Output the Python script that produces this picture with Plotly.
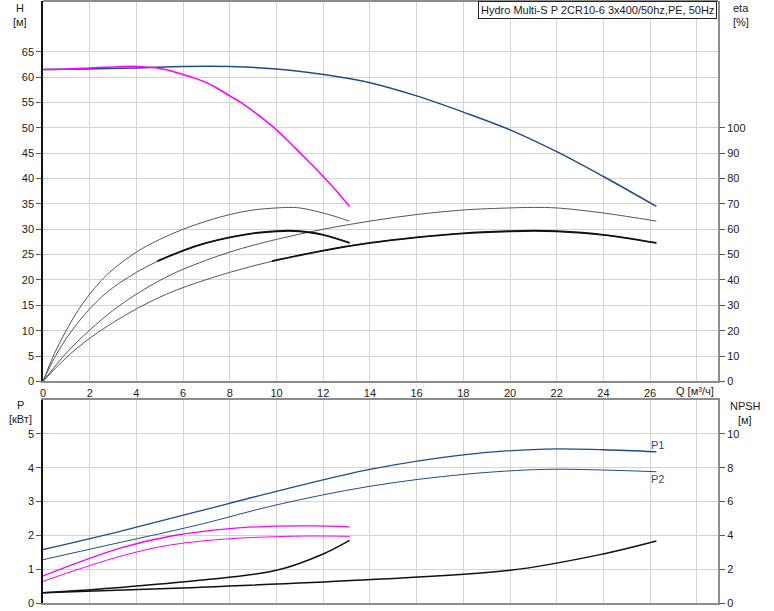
import plotly.graph_objects as go

# ---------------- data ----------------
# QH curves (H in m)
q_qh2 = [0, 2, 4, 6, 8, 10, 12, 14, 16, 18, 20, 22, 24, 26.27]
h_qh2 = [61.5, 61.6, 61.8, 62.1, 62.1, 61.6, 60.5, 58.9, 56.3, 53.1, 49.6, 45.3, 40.4, 34.5]
q_qh1 = [0, 1, 2, 3, 3.5, 4, 4.5, 5, 5.5, 6, 6.5, 7, 7.5, 8, 8.5, 9, 9.5, 10, 10.5, 11, 11.5, 12, 12.5, 13.13]
h_qh1 = [61.5, 61.6, 61.8, 62.0, 62.1, 62.1, 61.95, 61.7, 61.2, 60.5, 59.8, 58.9, 57.7, 56.3, 54.9, 53.3, 51.5,
         49.6, 47.4, 45.1, 42.8, 40.4, 37.9, 34.5]

# efficiency curves (eta in %)
q_eta1 = [0, 0.5, 1, 1.5, 2, 2.5, 3, 4, 5, 6, 7, 8, 9, 10, 10.5, 11, 12, 13.13]
eta1_a = [0, 11.2, 20.2, 28.0, 34.4, 39.8, 44.2, 51.0, 56.0, 60.0, 63.2, 65.8, 67.6, 68.4, 68.6, 68.4, 66.4, 63.2]
eta1_b = [0, 9.4, 17.0, 23.2, 28.6, 33.2, 37.0, 43.0, 47.8, 51.6, 54.6, 56.8, 58.4, 59.2, 59.4, 59.2, 57.8, 54.6]
q_eta1_t = [4.9, 6, 7, 8, 9, 10, 10.5, 11, 12, 13.13]
eta1_t = [47.4, 51.6, 54.6, 56.8, 58.4, 59.2, 59.4, 59.2, 57.8, 54.6]

q_eta2 = [0, 1, 2, 3, 4, 5, 6, 8, 10, 12, 14, 16, 18, 20, 21, 22, 24, 26.27]
eta2_a = [0, 11.2, 20.2, 28.0, 34.4, 39.8, 44.2, 51.0, 56.0, 60.0, 63.2, 65.8, 67.6, 68.4, 68.6, 68.4, 66.4, 63.2]
eta2_b = [0, 9.4, 17.0, 23.2, 28.6, 33.2, 37.0, 43.0, 47.8, 51.6, 54.6, 56.8, 58.4, 59.2, 59.4, 59.2, 57.8, 54.6]
q_eta2_t = [9.8, 12, 14, 16, 18, 20, 21, 22, 24, 26.27]
eta2_t = [47.4, 51.6, 54.6, 56.8, 58.4, 59.2, 59.4, 59.2, 57.8, 54.6]

# power curves (kW)
q_p2 = [0, 3.3, 6.6, 10, 14, 18, 21.5, 24, 26.27]
p1_2 = [1.58, 2.12, 2.70, 3.30, 3.95, 4.38, 4.55, 4.53, 4.47]
p2_2 = [1.28, 1.79, 2.30, 2.90, 3.45, 3.80, 3.95, 3.93, 3.88]
q_p1 = [0, 3.3, 5.5, 8, 10, 11.5, 13.13]
p1_1 = [0.80, 1.62, 1.98, 2.20, 2.27, 2.28, 2.25]
p2_1 = [0.64, 1.38, 1.72, 1.90, 1.96, 1.98, 1.97]

# NPSH curves (m)
q_npsh1 = [0, 3.3, 6.7, 10, 12, 13.13]
npsh1 = [0.6, 0.92, 1.34, 1.93, 2.9, 3.7]
q_npsh2 = [0, 6.6, 13.4, 20, 24, 26.27]
npsh2 = [0.6, 0.92, 1.34, 1.93, 2.9, 3.66]

x_ticks = [0, 2, 4, 6, 8, 10, 12, 14, 16, 18, 20, 22, 24, 26, 28]
x_ticktext = ["0", "2", "4", "6", "8", "10", "12", "14", "16", "18", "20", "22", "24", "26", ""]
h_ticks = [0, 5, 10, 15, 20, 25, 30, 35, 40, 45, 50, 55, 60, 65]
eta_ticks = [0, 10, 20, 30, 40, 50, 60, 70, 80, 90, 100]
p_ticks = [0, 1, 2, 3, 4, 5]
npsh_ticks = [0, 2, 4, 6, 8, 10]

# ---------------- figure ----------------
W, H = 774, 611
L, R, T, B = 43, 56, 1, 8
PW, PH = W - L - R, H - T - B


def px(x, y):
    return (x - L) / PW, (PH - (y - T)) / PH


BLUE = "#1f4e86"
MAG = "#ff00ff"
fig = go.Figure()


def add(q, v, xa, ya, color, width, name):
    fig.add_trace(go.Scatter(x=q, y=v, xaxis=xa, yaxis=ya, mode="lines",
                             line=dict(color=color, width=width, shape="spline", smoothing=1.0),
                             name=name, showlegend=False, hoverinfo="skip"))


# efficiency
add(q_eta1, eta1_a, "x", "y2", "#555555", 1, "eta1a")
add(q_eta1, eta1_b, "x", "y2", "#555555", 1, "eta1b")
add(q_eta2, eta2_a, "x", "y2", "#555555", 1, "eta2a")
add(q_eta2, eta2_b, "x", "y2", "#555555", 1, "eta2b")
add(q_eta1_t, eta1_t, "x", "y2", "#111111", 1.8, "eta1t")
add(q_eta2_t, eta2_t, "x", "y2", "#111111", 1.8, "eta2t")
# QH
add(q_qh2, h_qh2, "x", "y", BLUE, 1.5, "QH2")
add(q_qh1, h_qh1, "x", "y", MAG, 1.5, "QH1")
# power
add(q_p2, p1_2, "x2", "y3", BLUE, 1.3, "P1")
add(q_p2, p2_2, "x2", "y3", BLUE, 1, "P2")
add(q_p1, p1_1, "x2", "y3", MAG, 1.3, "P1m")
add(q_p1, p2_1, "x2", "y3", MAG, 1, "P2m")
# NPSH
add(q_npsh1, npsh1, "x2", "y4", "#111111", 1.5, "NPSH1")
add(q_npsh2, npsh2, "x2", "y4", "#111111", 1.5, "NPSH2")

top_dom = [(PH - (381.4 - T)) / PH, 1.0]
bot_dom = [0.0, (PH - (400 - T)) / PH]
xr = [0, (718 - 43) / 23.35]
tickfont = dict(family="Liberation Sans, Arial, sans-serif", size=11, color="#1a1a1a")
GRID = "#d3d3d3"

fig.update_layout(
    width=W, height=H, margin=dict(l=L, r=R, t=T, b=B, autoexpand=False),
    paper_bgcolor="white", plot_bgcolor="white",
    font=dict(family="Liberation Sans, Arial, sans-serif", size=11, color="#1a1a1a"),
    xaxis=dict(domain=[0, 1], anchor="y", range=xr, tickvals=x_ticks, ticktext=x_ticktext,
               showgrid=True, gridcolor=GRID, gridwidth=1.3, zeroline=False,
               showline=True, linecolor="#8c8c8c", linewidth=2, mirror=False,
               ticks="", tickfont=tickfont, fixedrange=True),
    yaxis=dict(domain=top_dom, anchor="x", range=[0, 75], tickvals=h_ticks,
               showgrid=True, gridcolor=GRID, gridwidth=1.3, zeroline=False,
               showline=True, linecolor="#111111", linewidth=1.5,
               ticks="outside", ticklen=5, tickcolor="#555555", tickfont=tickfont),
    yaxis2=dict(overlaying="y", side="right", anchor="x", range=[0, 150], tickvals=eta_ticks,
                showgrid=False, zeroline=False, showline=True, linecolor="#8c8c8c", linewidth=2,
                ticks="outside", ticklen=5, tickcolor="#555555", tickfont=tickfont),
    xaxis2=dict(domain=[0, 1], anchor="y3", range=xr, tickvals=x_ticks, showticklabels=False,
                showgrid=True, gridcolor=GRID, gridwidth=1.3, zeroline=False,
                showline=True, linecolor="#8c8c8c", linewidth=2, mirror=True, ticks=""),
    yaxis3=dict(domain=bot_dom, anchor="x2", range=[0, 6], tickvals=p_ticks,
                showgrid=True, gridcolor=GRID, gridwidth=1.3, zeroline=False,
                showline=True, linecolor="#111111", linewidth=1.5,
                ticks="outside", ticklen=5, tickcolor="#555555", tickfont=tickfont),
    yaxis4=dict(overlaying="y3", side="right", anchor="x2", range=[0, 12], tickvals=npsh_ticks,
                showgrid=False, zeroline=False, showline=True, linecolor="#8c8c8c", linewidth=2,
                ticks="outside", ticklen=5, tickcolor="#555555", tickfont=tickfont),
)

# top border of upper panel
fig.add_shape(type="line", xref="paper", yref="paper", x0=0, x1=1, y0=1, y1=1,
              line=dict(color="#8c8c8c", width=2))


def label(text, x, y, xanchor="center", size=11, color="#1a1a1a", **kw):
    xx, yy = px(x, y)
    fig.add_annotation(text=text, x=xx, y=yy, xref="paper", yref="paper",
                       xanchor=xanchor, yanchor="middle", showarrow=False,
                       font=dict(family="Liberation Sans, Arial, sans-serif", size=size, color=color), **kw)


label("H", 20, 8)
label("[м]", 20, 22)
label("eta", 741, 8)
label("[%]", 741, 22)
label("Q [м³/ч]", 695, 391)
label("P", 20, 405)
label("[кВт]", 20, 419)
label("NPSH", 745, 406)
label("[м]", 745, 420)
label("P1", 657, 445, xanchor="center", color=BLUE)
label("P2", 657, 479, xanchor="center", color=BLUE)

tx, ty = px(717, 1)
fig.add_annotation(text="Hydro Multi-S P 2CR10-6 3x400/50hz,PE, 50Hz", x=tx, y=ty,
                   xref="paper", yref="paper", xanchor="right", yanchor="top", showarrow=False,
                   bgcolor="white", bordercolor="#222222", borderwidth=1, borderpad=2,
                   font=dict(family="Liberation Sans, Arial, sans-serif", size=11, color="#1a1a1a"))

fig.write_html("out.html", config={"displayModeBar": False},
               post_script="document.body.style.margin='0px';")
